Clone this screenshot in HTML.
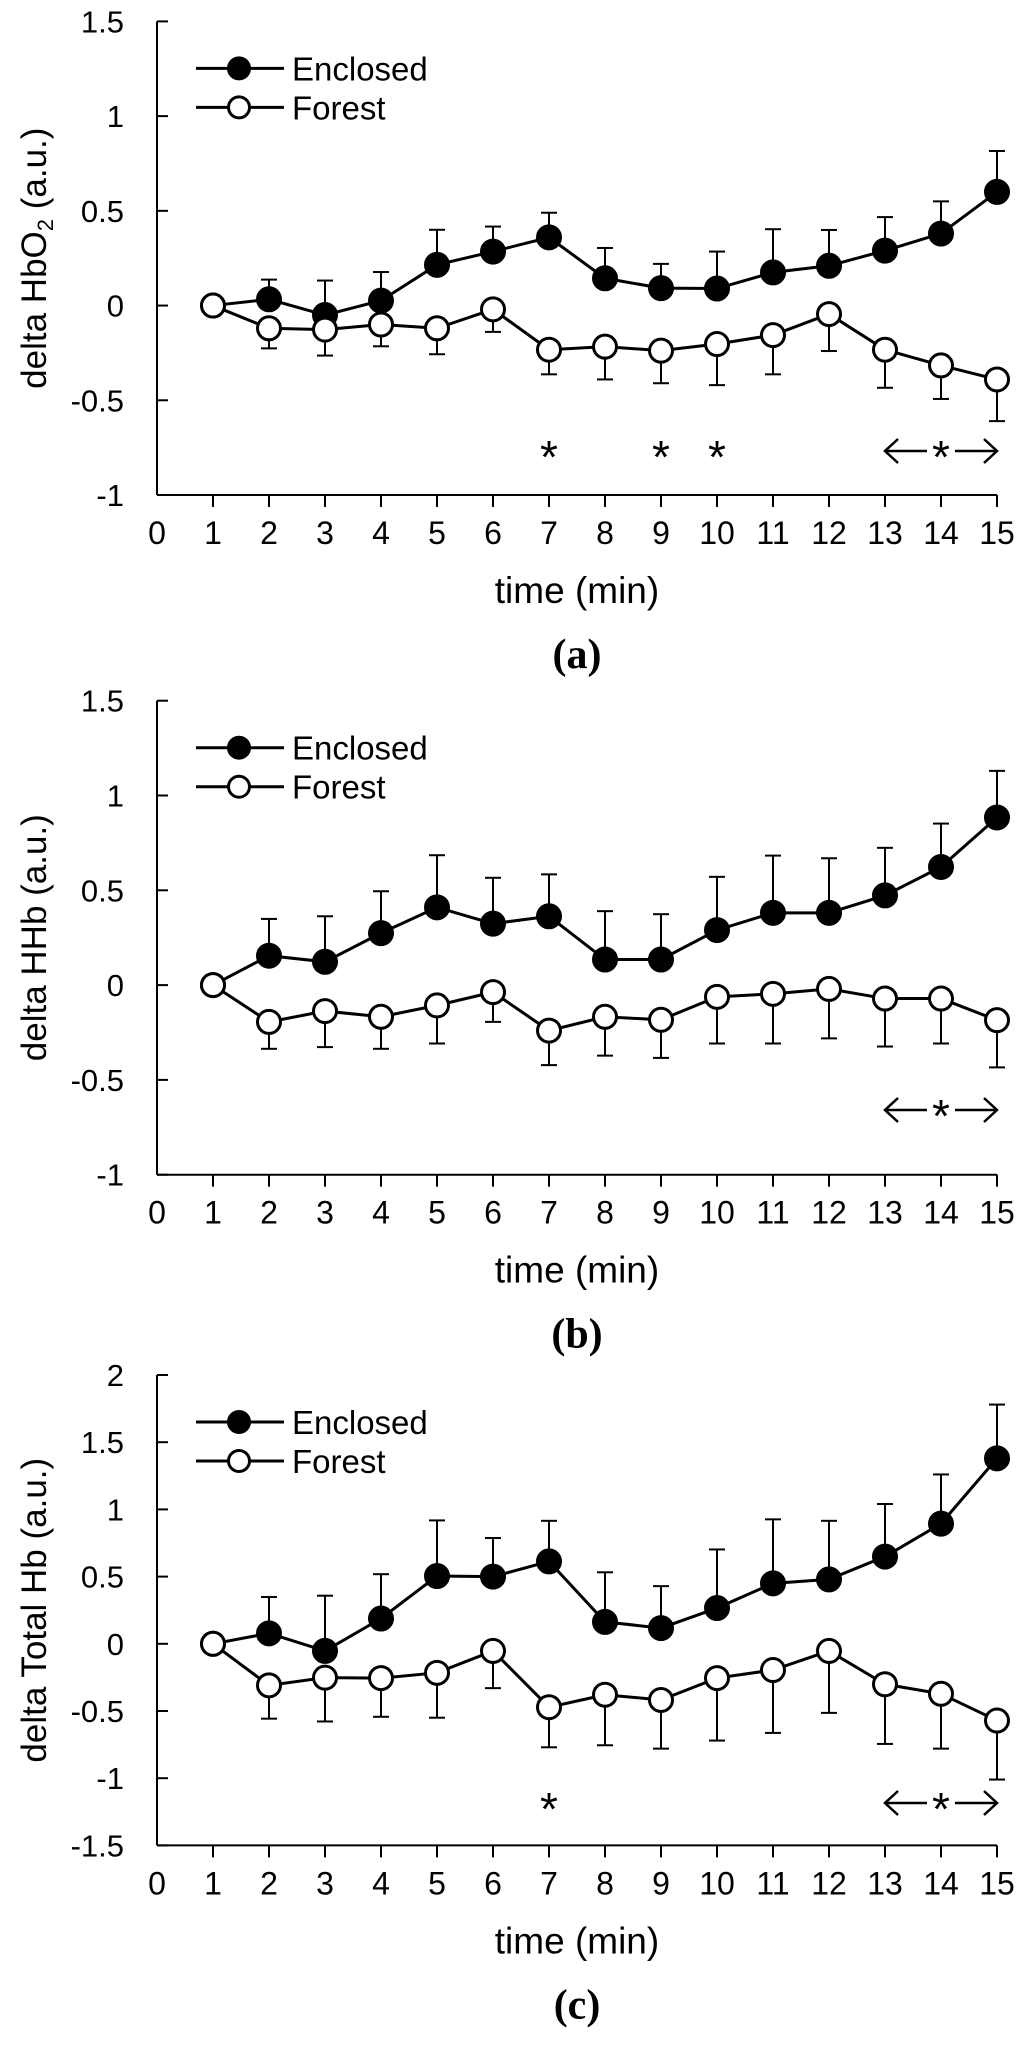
<!DOCTYPE html>
<html><head><meta charset="utf-8"><style>
html,body{margin:0;padding:0;background:#fff;}
svg{display:block;}
text{fill:#000;}
</style></head><body>
<svg id="chart" width="1024" height="2045" viewBox="0 0 1024 2045" xmlns="http://www.w3.org/2000/svg" font-family="Liberation Sans, sans-serif"></svg>
<script>
// ---- data ----
const times = [1,2,3,4,5,6,7,8,9,10,11,12,13,14,15];
const xTicks = [0,1,2,3,4,5,6,7,8,9,10,11,12,13,14,15];

const aEnclosed = [0,0.033,-0.05,0.026,0.215,0.285,0.36,0.144,0.092,0.09,0.175,0.21,0.29,0.38,0.60];
const aEnclosedTop = [0,0.137,0.132,0.177,0.40,0.417,0.49,0.304,0.22,0.285,0.403,0.399,0.467,0.55,0.816];
const aForest = [0,-0.12,-0.127,-0.10,-0.12,-0.02,-0.233,-0.217,-0.238,-0.203,-0.156,-0.045,-0.233,-0.316,-0.39];
const aForestBottom = [0,-0.226,-0.264,-0.215,-0.257,-0.139,-0.363,-0.39,-0.41,-0.42,-0.363,-0.24,-0.434,-0.493,-0.61];
const aYTicks = [1.5,1,0.5,0,-0.5,-1];
const aStars = [7,9,10];

const bEnclosed = [0,0.155,0.123,0.274,0.41,0.324,0.363,0.135,0.135,0.29,0.381,0.381,0.473,0.623,0.884];
const bEnclosedTop = [0,0.349,0.363,0.495,0.685,0.566,0.584,0.39,0.374,0.571,0.683,0.669,0.724,0.852,1.13];
const bForest = [0,-0.194,-0.137,-0.167,-0.107,-0.037,-0.24,-0.167,-0.183,-0.062,-0.046,-0.02,-0.071,-0.071,-0.185];
const bForestBottom = [0,-0.336,-0.327,-0.336,-0.308,-0.194,-0.422,-0.372,-0.384,-0.308,-0.308,-0.281,-0.324,-0.308,-0.434];
const bYTicks = [1.5,1,0.5,0,-0.5,-1];
const bStars = [];

const cEnclosed = [0,0.078,-0.053,0.188,0.504,0.50,0.613,0.163,0.117,0.266,0.45,0.479,0.649,0.894,1.38];
const cEnclosedTop = [0,0.348,0.358,0.518,0.918,0.787,0.915,0.532,0.429,0.702,0.926,0.915,1.04,1.26,1.78];
const cForest = [0,-0.309,-0.252,-0.255,-0.216,-0.053,-0.472,-0.379,-0.418,-0.255,-0.195,-0.053,-0.301,-0.372,-0.571];
const cForestBottom = [0,-0.557,-0.578,-0.543,-0.55,-0.33,-0.77,-0.755,-0.78,-0.72,-0.663,-0.514,-0.745,-0.78,-1.01];
const cYTicks = [2,1.5,1,0.5,0,-0.5,-1,-1.5];
const cStars = [7];

const NS = "http://www.w3.org/2000/svg";
const svg = document.getElementById('chart');
function mk(tag, attrs, parent){
  const e = document.createElementNS(NS, tag);
  for (const k in attrs) e.setAttribute(k, attrs[k]);
  (parent||svg).appendChild(e);
  return e;
}
const xScale = v => 157 + v*56;

function panel(cfg){
  const g = mk('g', {});
  
  
  const yMax = cfg.yTicks[0], yMin = cfg.yTicks[cfg.yTicks.length-1];
  const y = v => cfg.top + (yMax - v) / (yMax - yMin) * (cfg.bottom - cfg.top);
  const ax = mk('g', {stroke:'#000','stroke-width':2}, g);
  
  
  mk('line', {x1:157, y1:cfg.top, x2:157, y2:cfg.bottom}, ax);
  mk('line', {x1:157, y1:cfg.bottom, x2:xScale(15), y2:cfg.bottom}, ax);
  cfg.yTicks.forEach(t=>{
    mk('line', {x1:157, y1:y(t), x2:168, y2:y(t)}, ax);
    const tl = mk('text', {x:124, y:y(t)+11, 'text-anchor':'end','font-size':31}, g);
    tl.textContent = String(t);
    
    
  });
  xTicks.forEach(t=>{
    if (t>0) mk('line', {x1:xScale(t), y1:cfg.bottom, x2:xScale(t), y2:cfg.bottom+12}, ax);
    const tl = mk('text', {x:xScale(t), y:cfg.bottom+49, 'text-anchor':'middle','font-size':32}, g);
    tl.textContent = String(t);
    
    
  });
  const xt = mk('text', {x:577, y:cfg.bottom+108, 'text-anchor':'middle','font-size':37}, g);
  xt.textContent = 'time (min)';
  
  
  const cy = (cfg.top+cfg.bottom)/2;
  const yt = mk('text', {x:0, y:0, 'text-anchor':'middle','font-size':35, transform:`translate(46,${cy}) rotate(-90)`}, g);
  
  
  if (cfg.sub){
    yt.appendChild(document.createTextNode('delta HbO'));
    const s = mk('tspan', {'font-size':22, dy:7}, yt); s.textContent='2';
    const r = mk('tspan', {dy:-7}, yt); r.textContent=' (a.u.)';
  } else yt.textContent = cfg.ytitle;
  const pl = mk('text', {x:577, y:cfg.bottom+173, 'text-anchor':'middle','font-size':42,'font-weight':'bold','font-family':'Liberation Serif, serif'}, g);
  pl.textContent = '(' + cfg.letter + ')';
  
  

  function series(vals, ends, filled, name){
    const sg = mk('g', {}, g);
    
    
    times.forEach((t,i)=>{
      if (i===0) return;
      const e = mk('g', {stroke:'#000','stroke-width':2}, sg);
      
      
      mk('line', {x1:xScale(t), y1:y(vals[i]), x2:xScale(t), y2:y(ends[i])}, e);
      mk('line', {x1:xScale(t)-8, y1:y(ends[i]), x2:xScale(t)+8, y2:y(ends[i])}, e);
    });
    const pts = times.map((t,i)=>xScale(t)+','+y(vals[i])).join(' ');
    const pl = mk('polyline', {points:pts, fill:'none', stroke:'#000','stroke-width':3}, sg);
    
    
    times.forEach((t,i)=>{
      const c = mk('circle', {cx:xScale(t), cy:y(vals[i]), r:11.5, fill: filled?'#000':'#fff', stroke:'#000','stroke-width':3}, sg);
      
      
    });
  }
  series(cfg.enc, cfg.encTop, true, 'enclosed');
  series(cfg.forest, cfg.forestBot, false, 'forest');

  const lg = mk('g', {}, g);
  
  
  [[cfg.top+47,true,'Enclosed'],[cfg.top+86,false,'Forest']].forEach(([ly,f,lab])=>{
    const en = mk('g', {}, lg);
    
    
    mk('line', {x1:196, y1:ly, x2:284, y2:ly, stroke:'#000','stroke-width':3}, en);
    mk('circle', {cx:239, cy:ly, r:10.5, fill:f?'#000':'#fff', stroke:'#000','stroke-width':3}, en);
    const tx = mk('text', {x:292, y:ly+12, 'font-size':33}, en);
    tx.textContent = lab;
  });

  const sy = cfg.starY;
  cfg.stars.forEach(s=>{
    const st = mk('text', {x:xScale(s), y:sy+22, 'text-anchor':'middle','font-size':46}, g);
    st.textContent = '*';
    
    
  });
  const ar = mk('g', {stroke:'#000','stroke-width':2.5,fill:'none'}, g);
  
  
  const x13 = xScale(13), x14 = xScale(14), x15 = xScale(15);
  mk('line', {x1:x13, y1:sy, x2:x14-14, y2:sy}, ar);
  mk('polyline', {points:`${x13+13},${sy-12} ${x13},${sy} ${x13+13},${sy+12}`}, ar);
  mk('line', {x1:x14+14, y1:sy, x2:x15, y2:sy}, ar);
  mk('polyline', {points:`${x15-13},${sy-12} ${x15},${sy} ${x15-13},${sy+12}`}, ar);
  const st = mk('text', {x:x14, y:sy+22, 'text-anchor':'middle','font-size':46}, g);
  st.textContent = '*';
}

panel({id:'hbo2', letter:'a', top:21.4, bottom:495, yTicks:aYTicks, sub:true,
  enc:aEnclosed, encTop:aEnclosedTop, forest:aForest, forestBot:aForestBottom, stars:aStars, starY:451});
panel({id:'hhb', letter:'b', top:700.7, bottom:1174.7, yTicks:bYTicks, ytitle:'delta HHb (a.u.)',
  enc:bEnclosed, encTop:bEnclosedTop, forest:bForest, forestBot:bForestBottom, stars:bStars, starY:1110});
panel({id:'total-hb', letter:'c', top:1375, bottom:1845.4, yTicks:cYTicks, ytitle:'delta Total Hb (a.u.)',
  enc:cEnclosed, encTop:cEnclosedTop, forest:cForest, forestBot:cForestBottom, stars:cStars, starY:1803});
</script>
</body></html>
